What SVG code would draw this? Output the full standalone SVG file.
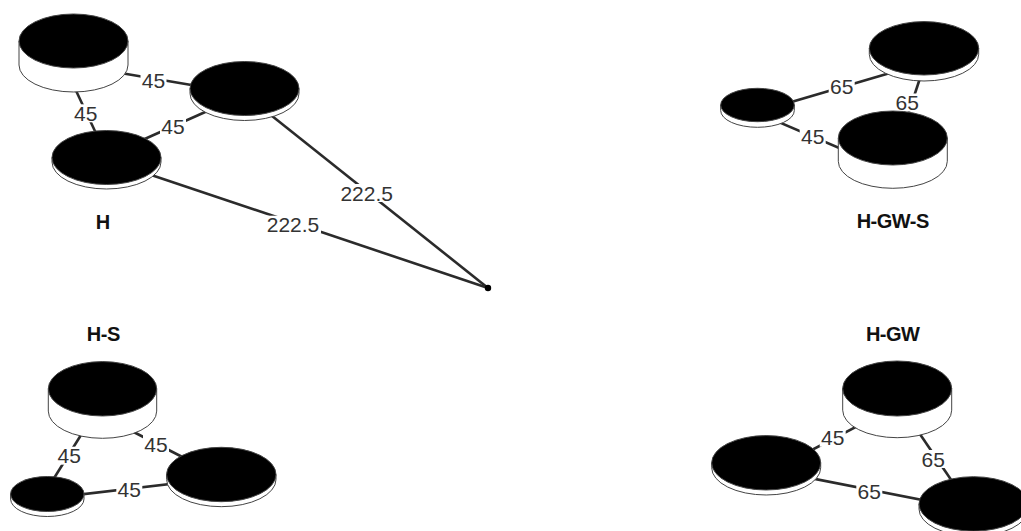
<svg xmlns="http://www.w3.org/2000/svg" width="1021" height="531" viewBox="0 0 1021 531">
<style>
.edge{stroke:#2b2b2b;stroke-width:2.6;fill:none;stroke-linecap:butt}
.side{fill:#fff;stroke:#444;stroke-width:1}
.top{fill:#000;stroke:#444;stroke-width:1}
.lbg{fill:#fff}
.elabel{font-family:"Liberation Sans",Arial,sans-serif;font-size:21px;fill:#333;text-anchor:middle}
.glabel{font-family:"Liberation Sans",Arial,sans-serif;font-size:20px;font-weight:bold;fill:#111;text-anchor:middle;letter-spacing:-0.5px}
</style>
<rect width="1021" height="531" fill="#fff"/>
<g id="connectors">
  <!-- H -->
  <line class="edge" x1="73.5" y1="65" x2="244.5" y2="94"/>
  <line class="edge" x1="64" y1="65" x2="108.5" y2="160"/>
  <line class="edge" x1="244.5" y1="94.5" x2="106.5" y2="156"/>
  <line class="edge" x1="244.5" y1="94" x2="488" y2="288"/>
  <line class="edge" x1="106.5" y1="160" x2="488" y2="288"/>
  <!-- H-GW-S -->
  <line class="edge" x1="757.5" y1="112" x2="924" y2="63"/>
  <line class="edge" x1="926" y1="60" x2="893" y2="160"/>
  <line class="edge" x1="757.5" y1="113" x2="892.8" y2="171"/>
  <!-- H-S -->
  <line class="edge" x1="96" y1="411" x2="41" y2="499"/>
  <line class="edge" x1="102.5" y1="416" x2="221.3" y2="477"/>
  <line class="edge" x1="47.3" y1="498.4" x2="221.3" y2="478"/>
  <!-- H-GW -->
  <line class="edge" x1="897" y1="405.4" x2="766" y2="474"/>
  <line class="edge" x1="903.5" y1="410" x2="971" y2="509"/>
  <line class="edge" x1="766" y1="469.4" x2="973.5" y2="510"/>
  <circle cx="488" cy="288" r="3.2" fill="#000"/>
  <!-- edge labels -->
  <rect class="lbg" x="140.5" y="71" width="26" height="18"/>
  <text class="elabel" x="153.5" y="87.5">45</text>
  <rect class="lbg" x="72.7" y="104.3" width="26" height="18"/>
  <text class="elabel" x="85.7" y="121">45</text>
  <rect class="lbg" x="160" y="117" width="26" height="18"/>
  <text class="elabel" x="173" y="133.5">45</text>
  <rect class="lbg" x="338.7" y="184" width="56" height="18"/>
  <text class="elabel" x="366.7" y="200.5">222.5</text>
  <rect class="lbg" x="265" y="215.7" width="56" height="18"/>
  <text class="elabel" x="293" y="232">222.5</text>
  <rect class="lbg" x="828.7" y="77" width="26" height="18"/>
  <text class="elabel" x="841.7" y="93.5">65</text>
  <rect class="lbg" x="799.7" y="127" width="26" height="18"/>
  <text class="elabel" x="812.7" y="143.5">45</text>
  <rect class="lbg" x="56.3" y="446.7" width="26" height="18"/>
  <text class="elabel" x="69.3" y="463">45</text>
  <rect class="lbg" x="143" y="435" width="26" height="18"/>
  <text class="elabel" x="156" y="451.5">45</text>
  <rect class="lbg" x="116.3" y="480.3" width="26" height="18"/>
  <text class="elabel" x="129.3" y="497">45</text>
  <rect class="lbg" x="819.7" y="428.7" width="26" height="18"/>
  <text class="elabel" x="832.7" y="445">45</text>
  <rect class="lbg" x="920.3" y="450" width="26" height="18"/>
  <text class="elabel" x="933.3" y="466.5">65</text>
  <rect class="lbg" x="856.3" y="482" width="26" height="18"/>
  <text class="elabel" x="869.3" y="498.5">65</text>
</g>
<!-- H group -->
<g id="h-node1">
  <path class="side" d="M19,41 L19,65 A54.5,27 0 0 0 128,65 L128,41 Z"/>
  <ellipse class="top" cx="73.5" cy="41" rx="54.5" ry="27"/>
</g>
<g id="h-node2">
  <path class="side" d="M190,88.5 L190,93.5 A54.5,27 0 0 0 299,93.5 L299,88.5 Z"/>
  <ellipse class="top" cx="244.5" cy="88.5" rx="54.5" ry="27"/>
</g>
<g id="h-node3">
  <path class="side" d="M52,157.5 L52,162 A54.5,27 0 0 0 161,162 L161,157.5 Z"/>
  <ellipse class="top" cx="106.5" cy="157.5" rx="54.5" ry="27"/>
</g>
<!-- H-GW-S group -->
<g id="hgws-node-a">
  <path class="side" d="M869.3,48.3 L869.3,54.3 A54.7,26.7 0 0 0 978.7,54.3 L978.7,48.3 Z"/>
  <ellipse class="top" cx="924" cy="48.3" rx="54.7" ry="26.7"/>
</g>
<g id="hgws-label-ac">
  <rect class="lbg" x="894.3" y="93.5" width="26" height="18"/>
  <text class="elabel" x="907.3" y="110">65</text>
</g>
<g id="hgws-node-b">
  <path class="side" d="M720.7,105 L720.7,110.6 A36.8,16.7 0 0 0 794.3,110.6 L794.3,105 Z"/>
  <ellipse class="top" cx="757.5" cy="105" rx="36.8" ry="16.7"/>
</g>
<g id="hgws-node-c">
  <path class="side" d="M838.3,138 L838.3,161.3 A54.5,27 0 0 0 947.3,161.3 L947.3,138 Z"/>
  <ellipse class="top" cx="892.8" cy="138" rx="54.5" ry="27"/>
</g>
<!-- H-S group -->
<g id="hs-node-top">
  <path class="side" d="M48.3,388.8 L48.3,411.1 A54.2,27.2 0 0 0 156.7,411.1 L156.7,388.8 Z"/>
  <ellipse class="top" cx="102.5" cy="388.8" rx="54.2" ry="27.2"/>
</g>
<g id="hs-node-left">
  <path class="side" d="M10.6,494 L10.6,499 A36.7,17.5 0 0 0 84,499 L84,494 Z"/>
  <ellipse class="top" cx="47.3" cy="494" rx="36.7" ry="17.5"/>
</g>
<g id="hs-node-right">
  <path class="side" d="M166.6,474.5 L166.6,479.5 A54.7,27.2 0 0 0 276,479.5 L276,474.5 Z"/>
  <ellipse class="top" cx="221.3" cy="474.5" rx="54.7" ry="27.2"/>
</g>
<!-- H-GW group -->
<g id="hgw-node-top">
  <path class="side" d="M842.7,388.5 L842.7,410.2 A54.5,27.5 0 0 0 951.7,410.2 L951.7,388.5 Z"/>
  <ellipse class="top" cx="897.2" cy="388.5" rx="54.5" ry="27.5"/>
</g>
<g id="hgw-node-left">
  <path class="side" d="M711.7,462.8 L711.7,467.8 A54.5,27.2 0 0 0 820.7,467.8 L820.7,462.8 Z"/>
  <ellipse class="top" cx="766.2" cy="462.8" rx="54.5" ry="27.2"/>
</g>
<g id="hgw-node-right">
  <path class="side" d="M919,503.9 L919,509 A54.5,27.2 0 0 0 1028,509 L1028,503.9 Z"/>
  <ellipse class="top" cx="973.5" cy="503.9" rx="54.5" ry="27.2"/>
</g>
<!-- group labels -->
<g id="group-labels">
  <text class="glabel" x="102.7" y="228.5">H</text>
  <text class="glabel" x="892.7" y="228.2">H-GW-S</text>
  <text class="glabel" x="103.3" y="340.7">H-S</text>
  <text class="glabel" x="892.7" y="340.7">H-GW</text>
</g>
</svg>
